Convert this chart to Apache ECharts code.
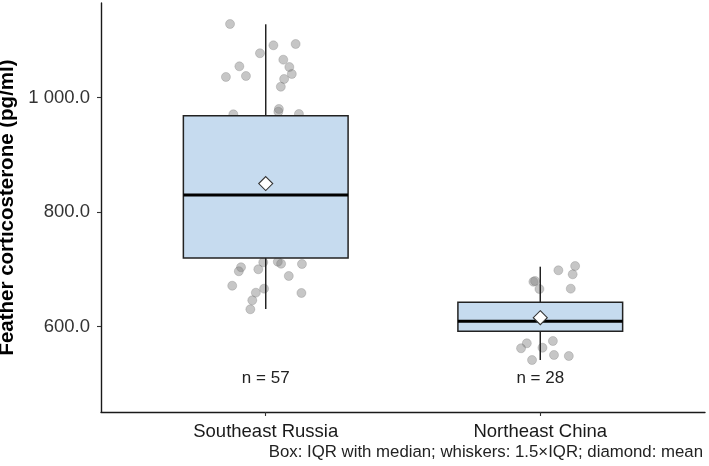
<!DOCTYPE html>
<html>
<head>
<meta charset="utf-8">
<script src="https://cdn.jsdelivr.net/npm/echarts@6/dist/echarts.min.js"></script>
<style>html,body{margin:0;padding:0;background:#fff}#c{width:709px;height:466px}</style>
</head>
<body>
<div id="c"></div>
<script>
// ---- data ----
const categories = ['Southeast Russia', 'Northeast China'];
const catPositions = [1, 2];
const whiskerLow  = [630.9, 541.8];
const boxQ1       = [720.0, 592.0];
const boxMedian   = [830.0, 609.4];
const boxQ3       = [968.6, 642.6];
const whiskerHigh = [1128.2, 704.8];
const groupMeans  = [850.0, 615.7];
const groupN      = [57, 28];
const nLabelValue = 510;
const yTickValues = [600, 800, 1000];
const caption = 'Box: IQR with median; whiskers: 1.5×IQR; diamond: mean';

// visible jittered observations: group index, horizontal jitter (category units), value
const ptGroup = [0,0,0,0,0,0,0,0,0,0,0,0,0,0,0,0,
                 0,0,0,0,0,0,0,0,0,0,0,0,0,0,
                 1,1,1,1,1,1,1,
                 1,1,1,1,1,1,1];
const ptJitter = [-0.130,0.028,0.109,-0.021,0.064,-0.096,0.086,-0.072,-0.145,0.095,0.067,0.055,0.048,0.046,-0.118,0.121,
                  -0.009,0.044,0.056,0.132,-0.090,-0.027,-0.098,0.084,-0.122,-0.006,-0.036,0.130,-0.049,-0.056,
                  -0.025,-0.019,-0.003,0.066,0.127,0.118,0.111,
                  -0.049,-0.070,0.046,0.008,-0.030,0.050,0.104];
const ptValue = [1128.7,1091.5,1093.8,1077.6,1066.4,1054.8,1053.6,1037.9,1036.2,1041.4,1032.7,1019.2,980.3,975.5,971.0,971.5,
                 712.5,713.5,710.0,709.5,703.8,700.3,696.8,688.6,671.6,666.4,659.4,658.9,646.1,630.4,
                 678.6,679.8,665.8,698.5,706.0,691.5,666.4,
                 571.0,562.3,575.0,563.3,541.8,550.6,548.8];

// ---- build options ----
const pointData = ptValue.map((v, i) => [catPositions[ptGroup[i]] + ptJitter[i], v]);
const boxData = categories.map((c, i) => [catPositions[i], whiskerLow[i], boxQ1[i], boxMedian[i], boxQ3[i], whiskerHigh[i], groupMeans[i]]);
const nData = categories.map((c, i) => [catPositions[i], nLabelValue, groupN[i]]);

function fmtY(v) {
  const s = Number(v).toFixed(1);
  const parts = s.split('.');
  const intPart = parts[0].replace(/\B(?=(\d{3})+(?!\d))/g, ' ');
  return intPart + '.' + parts[1];
}

const chart = echarts.init(document.getElementById('c'), null, {renderer: 'canvas'});
const font = '"Liberation Sans", Arial, sans-serif';
chart.setOption({
  animation: false,
  backgroundColor: '#ffffff',
  grid: {left: 101, right: 4, top: 3, bottom: 54, containLabel: false, outerBoundsMode: 'none'},
  xAxis: {
    type: 'value', min: 0.4, max: 2.6,
    splitLine: {show: false},
    axisLine: {show: true, onZero: false, lineStyle: {color: '#1a1a1a', width: 1.4}},
    axisTick: {show: true, customValues: catPositions, length: 4, lineStyle: {color: '#333', width: 1.1}},
    axisLabel: {
      show: true, customValues: catPositions, margin: 10,
      formatter: v => categories[catPositions.indexOf(Math.round(v))] || '',
      fontFamily: font, fontSize: 18.5, color: '#1a1a1a'
    }
  },
  yAxis: {
    type: 'value', min: 451, max: 1165.4,
    name: 'Feather corticosterone (pg/ml)',
    nameLocation: 'middle', nameGap: 79, nameRotate: 90,
    nameTextStyle: {fontFamily: font, fontSize: 20.5, fontWeight: 'bold', color: '#000'},
    splitLine: {show: false},
    axisLine: {show: true, onZero: false, lineStyle: {color: '#1a1a1a', width: 1.4}},
    axisTick: {show: true, customValues: yTickValues, length: 4, lineStyle: {color: '#333', width: 1.1}},
    axisLabel: {show: true, customValues: yTickValues, margin: 11, formatter: fmtY,
      fontFamily: font, fontSize: 18.5, color: '#333'}
  },
  series: [
    {
      type: 'scatter', z: 1,
      data: pointData,
      symbol: 'circle', symbolSize: 9,
      itemStyle: {color: 'rgba(125,125,125,0.55)', borderColor: 'rgba(110,110,110,0.35)', borderWidth: 1},
      silent: true
    },
    {
      type: 'custom', z: 2,
      data: boxData,
      encode: {x: 0, y: [1, 2, 3, 4, 5, 6]},
      renderItem: function (params, api) {
        const x = api.value(0);
        const lo = api.coord([x, api.value(1)]);
        const q1 = api.coord([x, api.value(2)]);
        const md = api.coord([x, api.value(3)]);
        const q3 = api.coord([x, api.value(4)]);
        const hi = api.coord([x, api.value(5)]);
        const mn = api.coord([x, api.value(6)]);
        const hw = api.size([0.3, 0])[0];
        const d = 7;
        const stroke = '#222';
        return {
          type: 'group',
          children: [
            {type: 'line', shape: {x1: hi[0], y1: hi[1], x2: q3[0], y2: q3[1]}, style: {stroke: stroke, lineWidth: 1.5}},
            {type: 'line', shape: {x1: q1[0], y1: q1[1], x2: lo[0], y2: lo[1]}, style: {stroke: stroke, lineWidth: 1.5}},
            {type: 'rect', shape: {x: q3[0] - hw, y: q3[1], width: 2 * hw, height: q1[1] - q3[1]},
              style: {fill: '#c6dbef', stroke: stroke, lineWidth: 1.5}},
            {type: 'line', shape: {x1: md[0] - hw, y1: md[1], x2: md[0] + hw, y2: md[1]}, style: {stroke: '#000', lineWidth: 3}},
            {type: 'polygon', shape: {points: [[mn[0], mn[1] - d], [mn[0] + d, mn[1]], [mn[0], mn[1] + d], [mn[0] - d, mn[1]]]},
              style: {fill: '#ffffff', stroke: '#333', lineWidth: 1.1}}
          ]
        };
      }
    },
    {
      type: 'custom', z: 3,
      data: nData,
      encode: {x: 0, y: 1},
      renderItem: function (params, api) {
        const p = api.coord([api.value(0), api.value(1)]);
        return {
          type: 'text',
          style: {text: 'n = ' + api.value(2), x: p[0], y: p[1], align: 'center', verticalAlign: 'middle',
            font: '17px ' + font, fill: '#222'}
        };
      }
    }
  ],
  graphic: [
    {type: 'text', right: 6, top: 444,
      style: {text: caption, font: '16.8px ' + font, fill: '#222'}}
  ]
});
</script>
</body>
</html>
